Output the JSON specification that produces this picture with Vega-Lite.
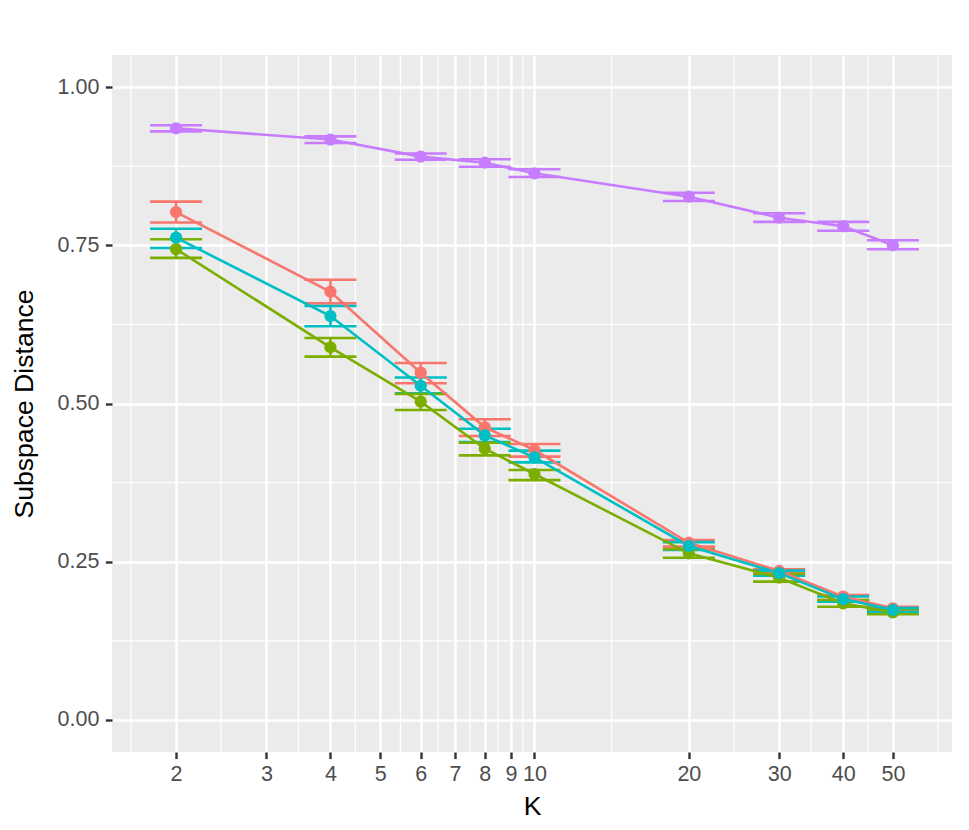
{
  "$schema": "https://vega.github.io/schema/vega-lite/v6.json",
  "description": "Subspace distance versus K, four methods with error bars",
  "autosize": {"type": "none"},
  "width": 840,
  "height": 697,
  "padding": {"left": 112, "top": 55, "right": 17, "bottom": 78},
  "background": "#ffffff",
  "config": {
    "view": {"fill": "#EBEBEB", "stroke": null},
    "font": "Liberation Sans",
    "axis": {
      "domain": false,
      "grid": true,
      "gridColor": "#ffffff",
      "gridWidth": 2.4,
      "tickColor": "#333333",
      "tickSize": 6.6,
      "tickWidth": 2.4,
      "labelColor": "#4D4D4D",
      "labelFont": "Liberation Sans",
      "labelFontSize": 21.5,
      "titleFont": "Liberation Sans",
      "titleFontSize": 26.6,
      "titleFontWeight": "normal",
      "titleColor": "#000000"
    }
  },
  "datasets": {
    "pts": [
      {"group": "A", "K": 2, "dist": 0.8025, "lo": 0.786, "hi": 0.819},
      {"group": "A", "K": 4, "dist": 0.6766, "lo": 0.6582, "hi": 0.6956},
      {"group": "A", "K": 6, "dist": 0.5487, "lo": 0.532, "hi": 0.564},
      {"group": "A", "K": 8, "dist": 0.4624, "lo": 0.4487, "hi": 0.475},
      {"group": "A", "K": 10, "dist": 0.4265, "lo": 0.416, "hi": 0.436},
      {"group": "A", "K": 20, "dist": 0.28, "lo": 0.2738, "hi": 0.2844},
      {"group": "A", "K": 30, "dist": 0.2354, "lo": 0.2317, "hi": 0.238},
      {"group": "A", "K": 40, "dist": 0.1948, "lo": 0.1896, "hi": 0.1975},
      {"group": "A", "K": 50, "dist": 0.1764, "lo": 0.1738, "hi": 0.179},
      {"group": "B", "K": 2, "dist": 0.744, "lo": 0.73, "hi": 0.7594},
      {"group": "B", "K": 4, "dist": 0.5888, "lo": 0.574, "hi": 0.6035},
      {"group": "B", "K": 6, "dist": 0.503, "lo": 0.4897, "hi": 0.515},
      {"group": "B", "K": 8, "dist": 0.4286, "lo": 0.418, "hi": 0.4381},
      {"group": "B", "K": 10, "dist": 0.3886, "lo": 0.379, "hi": 0.395},
      {"group": "B", "K": 20, "dist": 0.2633, "lo": 0.2564, "hi": 0.2697},
      {"group": "B", "K": 30, "dist": 0.2248, "lo": 0.2185, "hi": 0.2306},
      {"group": "B", "K": 40, "dist": 0.1843, "lo": 0.179, "hi": 0.1896},
      {"group": "B", "K": 50, "dist": 0.17, "lo": 0.167, "hi": 0.1749},
      {"group": "C", "K": 2, "dist": 0.762, "lo": 0.7457, "hi": 0.776},
      {"group": "C", "K": 4, "dist": 0.6382, "lo": 0.622, "hi": 0.654},
      {"group": "C", "K": 6, "dist": 0.528, "lo": 0.516, "hi": 0.541},
      {"group": "C", "K": 8, "dist": 0.4497, "lo": 0.439, "hi": 0.46},
      {"group": "C", "K": 10, "dist": 0.415, "lo": 0.407, "hi": 0.4255},
      {"group": "C", "K": 20, "dist": 0.2749, "lo": 0.2686, "hi": 0.281},
      {"group": "C", "K": 30, "dist": 0.232, "lo": 0.228, "hi": 0.236},
      {"group": "C", "K": 40, "dist": 0.191, "lo": 0.187, "hi": 0.195},
      {"group": "C", "K": 50, "dist": 0.174, "lo": 0.171, "hi": 0.177},
      {"group": "D", "K": 2, "dist": 0.9348, "lo": 0.93, "hi": 0.9395},
      {"group": "D", "K": 4, "dist": 0.917, "lo": 0.9115, "hi": 0.922},
      {"group": "D", "K": 6, "dist": 0.89, "lo": 0.885, "hi": 0.895},
      {"group": "D", "K": 8, "dist": 0.8804, "lo": 0.874, "hi": 0.886},
      {"group": "D", "K": 10, "dist": 0.8637, "lo": 0.8578, "hi": 0.87},
      {"group": "D", "K": 20, "dist": 0.8267, "lo": 0.82, "hi": 0.833},
      {"group": "D", "K": 30, "dist": 0.7935, "lo": 0.787, "hi": 0.8005},
      {"group": "D", "K": 40, "dist": 0.78, "lo": 0.773, "hi": 0.787},
      {"group": "D", "K": 50, "dist": 0.75, "lo": 0.7436, "hi": 0.758}
    ],
    "minorx": [
      {"K": 1.633}, {"K": 2.449}, {"K": 3.464}, {"K": 4.472}, {"K": 5.477},
      {"K": 6.481}, {"K": 7.483}, {"K": 8.485}, {"K": 9.487}, {"K": 14.14},
      {"K": 24.49}, {"K": 34.64}, {"K": 44.72}, {"K": 61.2}
    ],
    "minory": [
      {"dist": 0.125}, {"dist": 0.375}, {"dist": 0.625}, {"dist": 0.875}
    ]
  },
  "layer": [
    {
      "data": {"name": "minorx"},
      "mark": {"type": "rule", "color": "#ffffff", "strokeWidth": 1.2},
      "encoding": {
        "x": {
          "field": "K",
          "type": "quantitative",
          "scale": {"type": "log", "domain": [1.5, 65.2], "nice": false},
          "axis": {
            "title": "K",
            "values": [2, 3, 4, 5, 6, 7, 8, 9, 10, 20, 30, 40, 50],
            "format": "d",
            "labelPadding": 5,
            "titlePadding": 8
          }
        }
      }
    },
    {
      "data": {"name": "minory"},
      "mark": {"type": "rule", "color": "#ffffff", "strokeWidth": 1.2},
      "encoding": {
        "y": {
          "field": "dist",
          "type": "quantitative",
          "scale": {"domain": [-0.0506, 1.0506], "nice": false, "zero": false},
          "axis": {
            "title": "Subspace Distance",
            "values": [0, 0.25, 0.5, 0.75, 1],
            "format": ".2f",
            "labelPadding": 6.5,
            "titlePadding": 19
          }
        }
      }
    },
    {
      "data": {"name": "pts"},
      "mark": {"type": "rule", "strokeWidth": 2.6},
      "encoding": {
        "x": {"field": "K", "type": "quantitative"},
        "y": {"field": "lo", "type": "quantitative"},
        "y2": {"field": "hi"},
        "color": {
          "field": "group",
          "type": "nominal",
          "scale": {"domain": ["A", "B", "C", "D"], "range": ["#F8766D", "#7CAE00", "#00BFC4", "#C77CFF"]},
          "legend": null
        }
      }
    },
    {
      "data": {"name": "pts"},
      "mark": {"type": "tick", "orient": "horizontal", "size": 52, "thickness": 2.6, "opacity": 1},
      "encoding": {
        "x": {"field": "K", "type": "quantitative"},
        "y": {"field": "lo", "type": "quantitative"},
        "color": {"field": "group", "type": "nominal", "legend": null}
      }
    },
    {
      "data": {"name": "pts"},
      "mark": {"type": "tick", "orient": "horizontal", "size": 52, "thickness": 2.6, "opacity": 1},
      "encoding": {
        "x": {"field": "K", "type": "quantitative"},
        "y": {"field": "hi", "type": "quantitative"},
        "color": {"field": "group", "type": "nominal", "legend": null}
      }
    },
    {
      "data": {"name": "pts"},
      "mark": {"type": "line", "strokeWidth": 2.6},
      "encoding": {
        "x": {"field": "K", "type": "quantitative"},
        "y": {"field": "dist", "type": "quantitative"},
        "color": {"field": "group", "type": "nominal", "legend": null}
      }
    },
    {
      "data": {"name": "pts"},
      "mark": {"type": "point", "filled": true, "opacity": 1, "size": 150},
      "encoding": {
        "x": {"field": "K", "type": "quantitative"},
        "y": {"field": "dist", "type": "quantitative"},
        "color": {"field": "group", "type": "nominal", "legend": null}
      }
    }
  ]
}
